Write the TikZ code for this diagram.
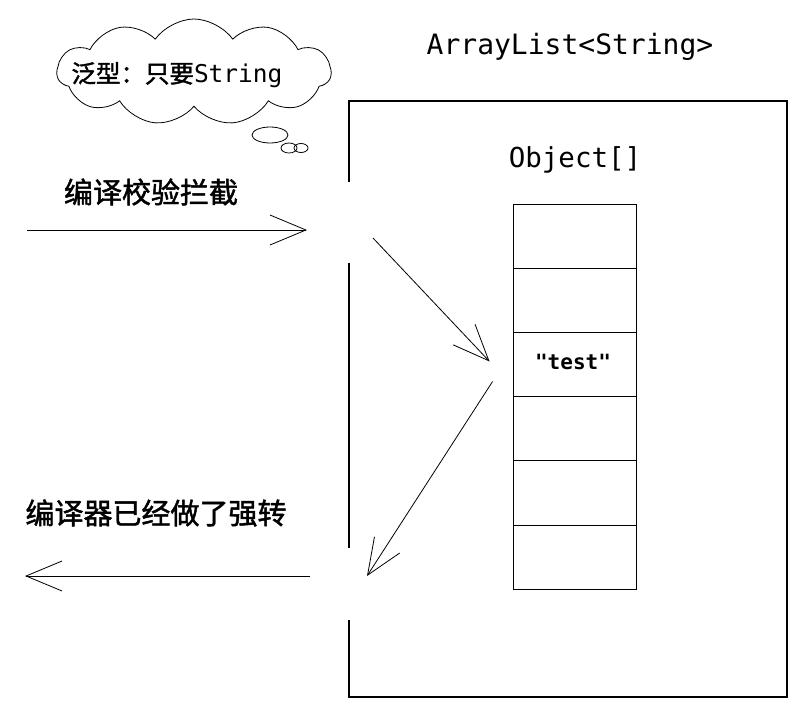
\documentclass[tikz,border=0pt]{standalone}
\usepackage{fontspec}
\setmonofont{DejaVu Sans Mono}
\newfontfamily\cjk[FakeBold=1.6]{Noto Sans CJK SC}
\usetikzlibrary{arrows.meta, shapes.symbols, shapes.geometric, positioning}

\tikzset{
  cell/.style={draw, line width=0.9pt, minimum width=123pt, minimum height=64.2pt, inner sep=0pt},
  flow/.style={line width=0.8pt, -{Straight Barb[length=36pt, width=30pt, line width=0.8pt]}},
  tag/.style={font=\cjk\fontsize{29}{32}\selectfont},
  code/.style={font=\ttfamily\fontsize{28}{31}\selectfont},
  bubble/.style={ellipse, draw, line width=0.8pt, inner sep=0pt},
}

\begin{document}
\begin{tikzpicture}[x=1pt, y=-1pt]
  \useasboundingbox (0,0) rectangle (805,704);

  % thought cloud
  \node[cloud, draw, line width=0.8pt, cloud puffs=11, cloud puff arc=110, cloud ignores aspect,
        minimum width=274pt, minimum height=106pt, inner sep=0pt] (hint) at (194,72) {};
  \node[font=\cjk\fontsize{24.5}{26}\selectfont] (hint text) at (177,75) {泛型：只要\ttfamily String};
  \node[bubble, minimum width=36pt, minimum height=16pt] (bubble1) at (270,135) {};
  \node[bubble, minimum width=16pt, minimum height=10pt] (bubble2) at (289,148) {};
  \node[bubble, minimum width=14pt, minimum height=9pt] (bubble3) at (301,148) {};

  % list box, open where the arrows pass
  \node[code] (list) at (570,47) {ArrayList<String>};
  \draw[line width=1.1pt] (349,182) |- (787,101) |- (349,697) -- (349,620);
  \draw[line width=1.1pt] (349,263) -- (349,548);

  % backing array
  \node[code, font=\ttfamily\fontsize{27.5}{30}\selectfont] (array) at (575,160) {Object[]};
  \foreach \i in {1,...,6} {
    \node[cell] (cell\i) at (574.5, 236.1+64.2*\i-64.2) {};
  }
  \node[font=\ttfamily\bfseries\fontsize{21}{24}\selectfont] (item) at (573,362) {"test"};

  % labels
  \node[tag] (check) at (151,192) {编译校验拦截};
  \node[tag] (cast) at (156,513) {编译器已经做了强转};

  % arrows
  \coordinate (put from) at (27,230);
  \coordinate (put to) at (307,230);
  \coordinate (gate in) at (373,238);
  \coordinate (gate out) at (367,576);
  \coordinate (get from) at (310,576);
  \coordinate (get to) at (25,576);
  \draw[flow] (put from) -- (put to);
  \draw[flow] (gate in) -- ([xshift=-23pt, yshift=3pt]cell3.west);
  \draw[flow] ([xshift=-20pt, yshift=-17pt]cell3.west) -- (gate out);
  \draw[flow] (get from) -- (get to);
\end{tikzpicture}
\end{document}
